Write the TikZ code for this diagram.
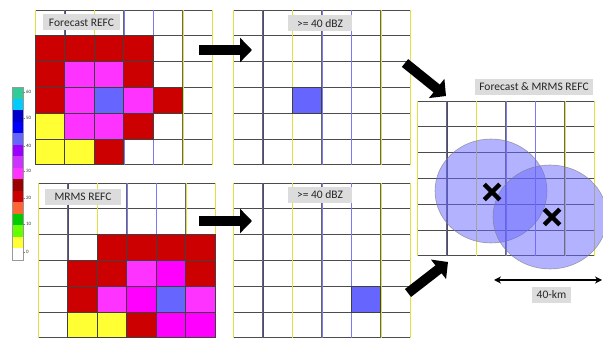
\documentclass[tikz,border=0pt]{standalone}
\usepackage{fontspec}
\setmainfont{Carlito}
\usetikzlibrary{arrows.meta, shapes.misc}

\definecolor{refred}{HTML}{CC0000}
\definecolor{refmag}{HTML}{FF33FF}
\definecolor{refpur}{HTML}{FF00FF}
\definecolor{refblu}{HTML}{6666FF}
\definecolor{refyel}{HTML}{FFFF33}
\definecolor{gridyel}{HTML}{E0E040}
\definecolor{gridblu}{HTML}{7A7AF0}
\definecolor{griddk}{HTML}{4A4A80}
\definecolor{lblgray}{HTML}{DCDCDC}

\begin{document}
\begin{tikzpicture}[
    x=1pt, y=-1pt,
    lbl/.style={fill=lblgray, text=black!85, font=\fontsize{11.5}{13}\selectfont, inner sep=0pt, minimum height=16pt},
    hline/.style={draw=black!70, line width=0.8pt},
    vline/.style={draw=#1, line width=0.7pt},
    cell/.style={fill=#1, draw=black!75, line width=0.6pt},
    blockarrow/.style={line width=10pt, -{Triangle[length=12pt, width=24pt]}},
    zone/.style={fill=refblu, fill opacity=0.5, draw=black!50, draw opacity=0.7, line width=0.6pt},
    xmark/.style={cross out, draw=black, line width=4.5pt, minimum size=11pt, inner sep=0pt},
    tick/.style={font=\fontsize{5}{6}\selectfont, text=black!80, anchor=west, inner sep=0.5pt}
]
\useasboundingbox (0,0) rectangle (603,339);

\def\cw{29.5}
\def\ch{25.8}

% Grid corners (upper left)
\coordinate (fcst) at (35,10);
\coordinate (mrms) at (38,183);
\coordinate (fthr) at (233,10);
\coordinate (mthr) at (233,183);
\coordinate (both) at (417,101);

% Grid lines
\foreach \g in {fcst,mrms,fthr,mthr,both} {
  \foreach \i in {0,...,6}
    \draw[hline] ([shift={(0,\i*\ch)}]\g) -- ++(6*\cw,0);
  \foreach \i/\vc in {0/gridyel,1/griddk,2/gridyel,3/gridblu,4/gridblu,5/gridyel,6/gridyel} {
    \draw[vline=black!60] ([shift={(\i*\cw,0)}]\g) -- ++(0,6*\ch);
    \draw[vline=\vc] ([shift={(\i*\cw+0.6,0)}]\g) -- ++(0,6*\ch);
  }
}

% Forecast REFC cells
\foreach \c/\r/\f in {0/1/refred, 1/1/refred, 2/1/refred, 3/1/refred,
    0/2/refred, 1/2/refmag, 2/2/refmag, 3/2/refred,
    0/3/refred, 1/3/refmag, 2/3/refblu, 3/3/refmag, 4/3/refred,
    0/4/refyel, 1/4/refmag, 2/4/refmag, 3/4/refred,
    0/5/refyel, 1/5/refyel, 2/5/refred}
  \filldraw[cell=\f] ([shift={(\c*\cw,\r*\ch)}]fcst) rectangle +(\cw,\ch);

% MRMS REFC cells
\foreach \c/\r/\f in {2/2/refred, 3/2/refred, 4/2/refred, 5/2/refred,
    1/3/refred, 2/3/refred, 3/3/refmag, 4/3/refpur, 5/3/refred,
    1/4/refred, 2/4/refmag, 3/4/refpur, 4/4/refblu, 5/4/refmag,
    1/5/refyel, 2/5/refyel, 3/5/refred, 4/5/refpur, 5/5/refpur}
  \filldraw[cell=\f] ([shift={(\c*\cw,\r*\ch)}]mrms) rectangle +(\cw,\ch);

% Threshold cells
\filldraw[cell=refblu] ([shift={(2*\cw,3*\ch)}]fthr) rectangle +(\cw,\ch);
\filldraw[cell=refblu] ([shift={(4*\cw,4*\ch)}]mthr) rectangle +(\cw,\ch);

% Labels
\node[lbl, minimum width=77pt] (fcstlbl) at (81.5,22.5) {Forecast REFC};
\node[lbl, minimum width=76pt] (mrmslbl) at (83,197) {MRMS REFC};
\node[lbl, minimum width=64pt] (fthrlbl) at (320,23.5) {>= 40 dBZ};
\node[lbl, minimum width=64pt] (mthrlbl) at (320,195) {>= 40 dBZ};
\node[lbl, minimum width=118pt] (bothlbl) at (534,87) {Forecast \& MRMS REFC};

% Neighbourhoods
\filldraw[zone] (491,191) ellipse [x radius=56pt, y radius=52pt];
\filldraw[zone] (550,217) ellipse [x radius=57pt, y radius=52pt];
\node[xmark] (fx) at (492,192) {};
\node[xmark] (mx) at (552,217) {};

% Scale
\coordinate (kmw) at (494,280);
\coordinate (kme) at (602,280);
\draw[line width=1.5pt, {Stealth[length=7pt, width=7pt]}-{Stealth[length=7pt, width=7pt]}] (kmw) -- (kme);
\node[lbl, minimum width=39pt] (kmlbl) at (551.5,295) {40-km};

% Arrows
\coordinate (a1s) at (199,50);  \coordinate (a1e) at (252,50);
\coordinate (a2s) at (199,221); \coordinate (a2e) at (252,221);
\coordinate (a3s) at (405,63);  \coordinate (a3e) at (446,96);
\coordinate (a4s) at (408,293); \coordinate (a4e) at (448,262);
\draw[blockarrow] (a1s) -- (a1e);
\draw[blockarrow] (a2s) -- (a2e);
\draw[blockarrow] (a3s) -- (a3e);
\draw[blockarrow] (a4s) -- (a4e);

% Colour bar
\foreach \f [count=\i from 0] in {33CC99,00CCFF,0000CC,0000FF,6666FF,9900FF,CC33FF,FF33FF,
    990000,CC0000,FF6633,00CC00,66FF00,FFFF33,FFFFFF} {
  \definecolor{cbc}{HTML}{\f}
  \fill[cbc] (12,87+\i*11.53) rectangle +(11,11.53);
}
\draw[black!40, line width=0.5pt] (12,87) rectangle (23,260);
\foreach \v/\y in {60/92,50/118,40/146,30/171,20/198,10/224,0/252} {
  \draw[black!50, line width=0.4pt] (23,\y) -- (25,\y);
  \node[tick] (cb\v) at (25.5,\y) {\v};
}
\end{tikzpicture}
\end{document}
